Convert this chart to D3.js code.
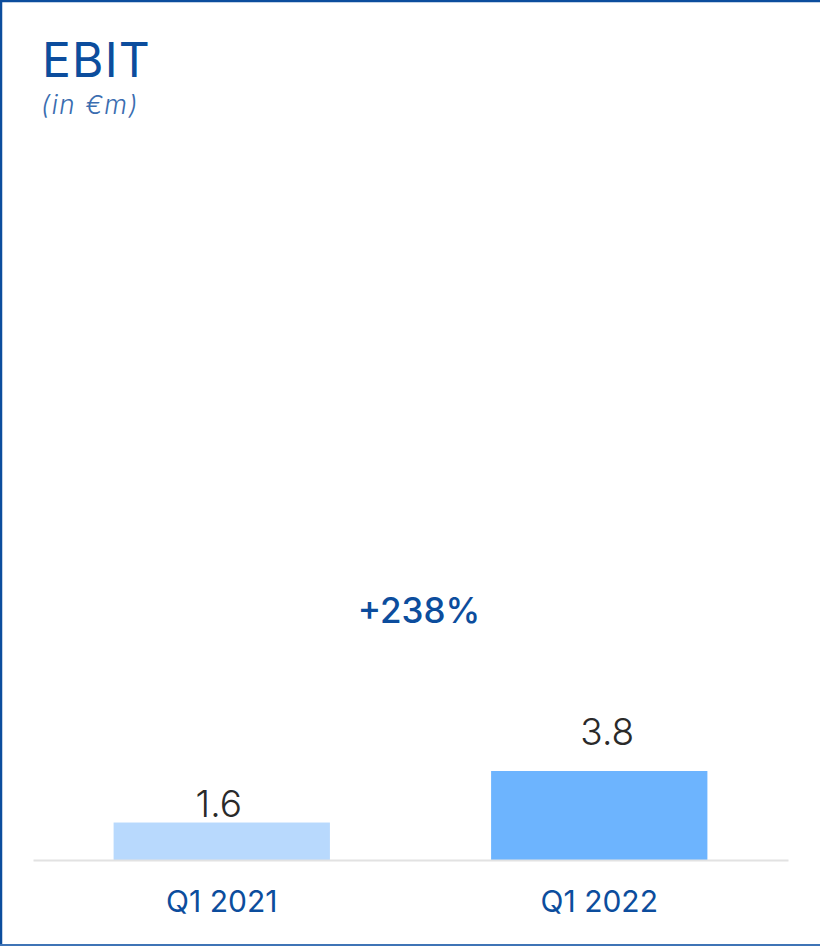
<!DOCTYPE html>
<html>
<head>
<meta charset="utf-8">
<script src="https://cdn.jsdelivr.net/npm/d3@7"></script>
<style>
  html, body { margin: 0; padding: 0; background: #fff; }
  svg { display: block; }
</style>
</head>
<body>
<svg id="chart" width="820" height="946"></svg>
<script>
// EBIT by quarter, in € millions
const categories = ["Q1 2021", "Q1 2022"];
const values = [1.6, 3.8];
const valueLabels = ["1.6", "3.8"];
const changeLabel = "+238%";
const title = "EBIT";
const subtitle = "(in €m)";

const barColors = ["#b8d9fd", "#6db4fe"];
const navy = "#0c4d9d";
const fontFamily = "Inter, 'Open Sans', sans-serif";

const W = 820, H = 946;
const svg = d3.select("#chart");

// frame: top, left and bottom rules
svg.append("line").attr("x1", 0).attr("x2", W).attr("y1", 1).attr("y2", 1)
  .attr("stroke", "#0c4d9d").attr("stroke-width", 2.5);
svg.append("line").attr("x1", 1).attr("x2", 1).attr("y1", 0).attr("y2", H)
  .attr("stroke", "#0c4d9d").attr("stroke-width", 2.5);
svg.append("line").attr("x1", 0).attr("x2", W).attr("y1", H - 1).attr("y2", H - 1)
  .attr("stroke", "#3f74b6").attr("stroke-width", 2);

// heading
svg.append("text").attr("x", 42).attr("y", 77)
  .attr("font-family", fontFamily).attr("font-size", 48).attr("font-weight", 400)
  .attr("letter-spacing", 1.2)
  .attr("fill", navy).text(title);
svg.append("text").attr("x", 41).attr("y", 114)
  .attr("font-family", fontFamily).attr("font-size", 26).attr("font-style", "italic")
  .attr("font-weight", 300).attr("letter-spacing", 1.6)
  .attr("fill", "#3a6db0").text(subtitle);

// scales
const baseY = 860;
const x = d3.scaleBand().domain(categories).range([33, 788])
  .paddingInner(0.427).paddingOuter(0.2135);
const y = d3.scaleLinear().domain([0, 3.8]).range([baseY, 771]);

// bars
svg.append("g").selectAll("rect").data(values).join("rect")
  .attr("x", (d, i) => x(categories[i]))
  .attr("y", d => y(d))
  .attr("width", x.bandwidth())
  .attr("height", d => y(0) - y(d))
  .attr("fill", (d, i) => barColors[i]);

// baseline axis
const xAxis = d3.axisBottom(x).tickSize(0).tickPadding(42);
const gx = svg.append("g").attr("transform", `translate(0,${baseY})`).call(xAxis);
gx.select(".domain").attr("stroke", "#e2e2e2").attr("stroke-width", 2);
gx.selectAll(".tick text")
  .attr("font-family", fontFamily).attr("font-size", 30).attr("font-weight", 400)
  .attr("fill", navy).attr("dy", 0).attr("y", 52);

// value labels above bars
const labelLift = [6, 26];
svg.append("g").selectAll("text").data(values).join("text")
  .attr("x", (d, i) => x(categories[i]) + x.bandwidth() / 2 + (i === 0 ? -3 : 8))
  .attr("y", (d, i) => y(d) - labelLift[i])
  .attr("text-anchor", "middle")
  .attr("font-family", fontFamily).attr("font-size", 37).attr("font-weight", 300)
  .attr("fill", "#2a2a2a")
  .text((d, i) => valueLabels[i]);

// growth annotation
svg.append("text").attr("x", 419).attr("y", 623)
  .attr("text-anchor", "middle")
  .attr("font-family", fontFamily).attr("font-size", 35).attr("font-weight", 500)
  .attr("fill", navy).text(changeLabel);
</script>
</body>
</html>
